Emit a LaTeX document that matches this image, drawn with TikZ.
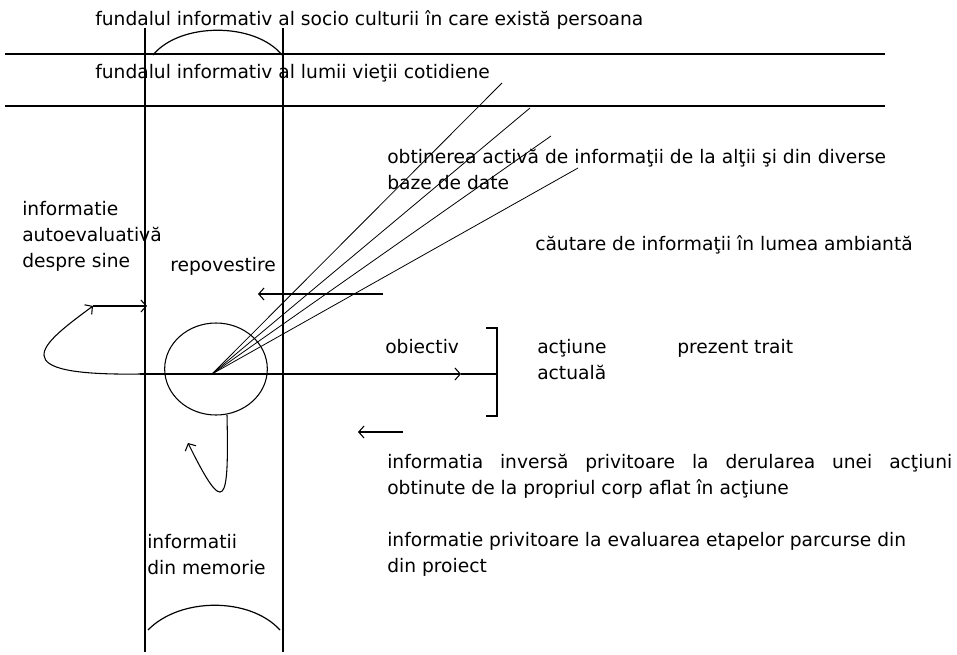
\documentclass[tikz,border=0pt]{standalone}
\usepackage{fontspec}
\setmainfont{DejaVu Sans}
\usetikzlibrary{arrows.meta, shapes.geometric}

\begin{document}
\begin{tikzpicture}[
  x=0.75pt, y=-0.75pt,
  line/.style={line width=0.9pt},
  ray/.style={line width=0.6pt},
  barb/.style={line width=0.8pt, -{Straight Barb[length=4pt, width=9pt]}},
  lbl/.style={anchor=base west, inner sep=0pt, align=left, font=\fontsize{14}{19.5}\selectfont}
]
  \useasboundingbox (0,0) rectangle (957,654);

  % fundal: doua benzi si doua coloane
  \coordinate (bandAw) at (5,54);   \coordinate (bandAe) at (885,54);
  \coordinate (bandBw) at (5,106);  \coordinate (bandBe) at (885,106);
  \coordinate (colLn) at (145,28);  \coordinate (colLs) at (145,652);
  \coordinate (colRn) at (283,28);  \coordinate (colRs) at (283,652);
  \draw[line] (bandAw) -- (bandAe);
  \draw[line] (bandBw) -- (bandBe);
  \draw[line] (colLn) -- (colLs);
  \draw[line] (colRn) -- (colRs);
  \draw[line] (153,55) .. controls (180,22) and (255,22) .. (282,55);
  \draw[line] (148,630) .. controls (180,597) and (250,597) .. (280,630);

  % persoana si razele spre lume
  \node[draw, ellipse, line width=0.8pt, minimum width=77pt, minimum height=69pt, inner sep=0pt] (self) at (216,369) {};
  \coordinate (src) at (212,374);
  \coordinate (r1) at (502,83);
  \coordinate (r2) at (530,108);
  \coordinate (r3) at (551,136);
  \coordinate (r4) at (578,168);
  \foreach \r in {r1,r2,r3,r4}
    \draw[ray] (src) -- (\r);

  % axa actiunii
  \coordinate (axisW) at (140,374);
  \coordinate (axisTip) at (461,374);
  \coordinate (axisE) at (497,374);
  \draw[barb] (axisW) -- (axisTip);
  \draw[line] (axisTip) -- (axisE);
  \draw[line] (486,328) -- (497,328) -- (497,416) -- (486,416);

  % sagetile de informatie
  \coordinate (retoldE) at (383,294);  \coordinate (retoldW) at (258,294);
  \draw[barb] (retoldE) -- (retoldW);
  \coordinate (selfW) at (93,306);     \coordinate (selfE) at (147,306);
  \draw[barb] (selfW) -- (selfE);
  \draw[barb] (axisW) .. controls (0,376) and (40,345) .. (selfW);
  \coordinate (memS) at (227,415);     \coordinate (memTip) at (188,443);
  \draw[barb] (memS) .. controls (229,505) and (225,518) .. (memTip);
  \coordinate (fbE) at (403,432);      \coordinate (fbW) at (358,432);
  \draw[barb] (fbE) -- (fbW);

  % texte
  \node[lbl] (socio) at (95,25) {fundalul informativ al socio culturii în care există persoana};
  \node[lbl] (cotid) at (95,78) {fundalul informativ al lumii vieţii cotidiene};
  \node[lbl] (activ) at (387,189) {obtinerea activă de informaţii de la alţii şi din diverse\\baze de date};
  \node[lbl] (cautare) at (535,250) {căutare de informaţii în lumea ambiantă};
  \node[lbl] (autoev) at (22,267) {informatie\\autoevaluativă\\despre sine};
  \node[lbl] (repov) at (170,271) {repovestire};
  \node[lbl] (obiectiv) at (385,353) {obiectiv};
  \node[lbl] (actiune) at (537,379) {acţiune\\actuală};
  \node[lbl] (prezent) at (677,353) {prezent trait};
  \node[lbl, text width=423.75pt, align=justify] (inversa) at (387,468)
    {informatia inversă privitoare la derularea unei acţiuni\linebreak obtinute de la propriul corp aflat în acţiune};
  \node[lbl] (etape) at (387,572) {informatie privitoare la evaluarea etapelor parcurse din\\din proiect};
  \node[lbl] (memorie) at (147,574) {informatii\\din memorie};
\end{tikzpicture}
\end{document}
